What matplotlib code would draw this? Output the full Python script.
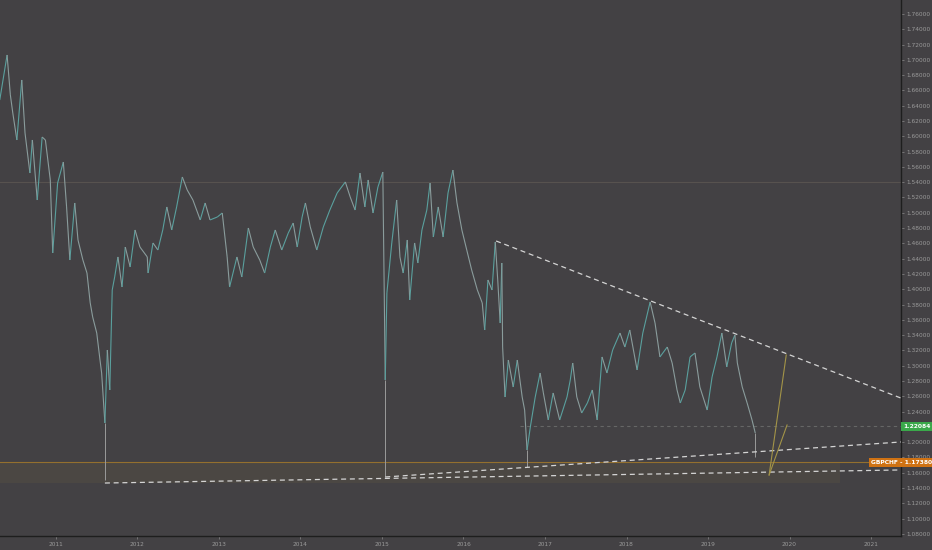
import matplotlib
matplotlib.use('Agg')
import matplotlib.pyplot as plt
import numpy as np
from matplotlib.collections import LineCollection
from matplotlib.patches import Rectangle

# ---- price path (decimal year, price) ----
t = [2010.31, 2010.40, 2010.44, 2010.47, 2010.52, 2010.58, 2010.62, 2010.68, 2010.71, 2010.77,
     2010.83, 2010.87, 2010.93, 2010.96, 2011.02, 2011.09, 2011.13, 2011.17, 2011.23, 2011.27,
     2011.33, 2011.38, 2011.42, 2011.45, 2011.50, 2011.54, 2011.56, 2011.60, 2011.63, 2011.66,
     2011.69, 2011.72, 2011.76, 2011.81, 2011.85, 2011.91, 2011.97, 2012.03, 2012.12, 2012.13,
     2012.19, 2012.25, 2012.31, 2012.36, 2012.42, 2012.48, 2012.55, 2012.61, 2012.68, 2012.77,
     2012.83, 2012.89, 2012.98, 2013.04, 2013.10, 2013.13, 2013.22, 2013.28, 2013.36, 2013.42,
     2013.50, 2013.56, 2013.63, 2013.69, 2013.77, 2013.85, 2013.91, 2013.96, 2014.02, 2014.06,
     2014.12, 2014.20, 2014.28, 2014.36, 2014.45, 2014.55, 2014.61, 2014.67, 2014.73, 2014.79,
     2014.83, 2014.89, 2014.95, 2015.01, 2015.04, 2015.06, 2015.12, 2015.18, 2015.22, 2015.26,
     2015.31, 2015.34, 2015.40, 2015.44, 2015.49, 2015.55, 2015.59, 2015.63, 2015.69, 2015.75,
     2015.81, 2015.87, 2015.92, 2015.98, 2016.04, 2016.10, 2016.17, 2016.23, 2016.26, 2016.30,
     2016.35, 2016.39, 2016.42, 2016.45, 2016.47, 2016.48, 2016.51, 2016.55, 2016.61, 2016.66,
     2016.72, 2016.75, 2016.78, 2016.82, 2016.88, 2016.94, 2016.98, 2017.04, 2017.10, 2017.18,
     2017.27, 2017.31, 2017.34, 2017.39, 2017.45, 2017.52, 2017.58, 2017.64, 2017.70, 2017.76,
     2017.83, 2017.92, 2017.98, 2018.04, 2018.13, 2018.20, 2018.29, 2018.35, 2018.41, 2018.50,
     2018.56, 2018.62, 2018.66, 2018.72, 2018.78, 2018.84, 2018.90, 2018.99, 2019.05, 2019.11,
     2019.17, 2019.23, 2019.29, 2019.33, 2019.36, 2019.42, 2019.48, 2019.54, 2019.58]
p = [1.6475, 1.7064, 1.6541, 1.6305, 1.5952, 1.6737, 1.6043, 1.5520, 1.5952, 1.5167,
     1.5991, 1.5952, 1.5429, 1.4474, 1.5389, 1.5664, 1.5076, 1.4382, 1.5128, 1.4644,
     1.4382, 1.4212, 1.3820, 1.3637, 1.3427, 1.3074, 1.2904, 1.2250, 1.3205, 1.2682,
     1.3990, 1.4160, 1.4422, 1.4029, 1.4552, 1.4291, 1.4775, 1.4552, 1.4422, 1.4212,
     1.4605, 1.4513, 1.4775, 1.5076, 1.4775, 1.5076, 1.5468, 1.5298, 1.5167, 1.4906,
     1.5128, 1.4906, 1.4945, 1.4997, 1.4422, 1.4029, 1.4422, 1.4160, 1.4801, 1.4552,
     1.4382, 1.4212, 1.4552, 1.4775, 1.4513, 1.4735, 1.4866, 1.4552, 1.4945, 1.5128,
     1.4814, 1.4513, 1.4814, 1.5036, 1.5259, 1.5403, 1.5206, 1.5036, 1.5520, 1.5076,
     1.5429, 1.4997, 1.5337, 1.5533, 1.2813, 1.3951, 1.4605, 1.5167, 1.4422, 1.4212,
     1.4644, 1.3859, 1.4605, 1.4343, 1.4775, 1.5036, 1.5389, 1.4683, 1.5076, 1.4683,
     1.5259, 1.5559, 1.5128, 1.4775, 1.4513, 1.4252, 1.3990, 1.3820, 1.3467, 1.4121,
     1.3990, 1.4618, 1.4121, 1.3558, 1.4343, 1.3244, 1.2590, 1.3074, 1.2721, 1.3074,
     1.2590, 1.2420, 1.1897, 1.2198, 1.2590, 1.2904, 1.2643, 1.2290, 1.2643, 1.2290,
     1.2590, 1.2813, 1.3035, 1.2590, 1.2381, 1.2512, 1.2682, 1.2290, 1.3114, 1.2904,
     1.3205, 1.3427, 1.3244, 1.3467, 1.2944, 1.3427, 1.3833, 1.3558, 1.3114, 1.3244,
     1.3035, 1.2682, 1.2512, 1.2682, 1.3114, 1.3166, 1.2721, 1.2420, 1.2852, 1.3114,
     1.3427, 1.2983, 1.3297, 1.3401, 1.3035, 1.2721, 1.2512, 1.2290, 1.2119]

# flash-crash wicks
wick_t = [2011.60, 2015.04, 2016.78, 2019.58]
wick_hi = [1.2250, 1.2813, 1.1897, 1.2119]
wick_lo = [1.1505, 1.1544, 1.1675, 1.1806]

# trend lines (start, end)
upper_tl = [(2016.40, 1.4631), (2021.37, 1.2575)]
middle_tl = [(2015.04, 1.1544), (2021.37, 1.2002)]
lower_tl = [(2011.60, 1.1465), (2021.37, 1.1636)]
proj_a = [(2019.75, 1.1570), (2019.96, 1.3140)]
proj_b = [(2019.75, 1.1570), (2019.97, 1.2224)]

hline_grey = 1.54
last_price = 1.22084
last_price_start = 2016.69
gbpchf = 1.17380
zone_lo, zone_hi, zone_end = 1.1465, 1.17380, 2020.62

yticks = [round(1.08 + 0.02 * i, 2) for i in range(35)]
hidden_ticks = [1.22]  # covered by the last-price label
years = list(range(2011, 2022))

BG = '#434144'
fig = plt.figure(figsize=(9.32, 5.5), dpi=100, facecolor=BG)
ax = fig.add_axes([0, 14 / 550, 901 / 932, 536 / 550])
ax.set_facecolor(BG)
x0, x1 = 2010.313, 2021.368
y0, y1 = 1.0772, 1.7783
ax.set_xlim(x0, x1)
ax.set_ylim(y0, y1)

# zone
ax.add_patch(Rectangle((x0, zone_lo), zone_end - x0, zone_hi - zone_lo,
                       facecolor='#7a6a40', alpha=0.15, edgecolor='none', zorder=1))
ax.axhline(gbpchf, color='#94702e', lw=0.8, zorder=2)
ax.axhline(hline_grey, color='#57524f', lw=0.8, zorder=1)
ax.plot([last_price_start, x1], [last_price, last_price], color='#666666',
        lw=0.8, ls=(0, (3, 3)), zorder=2)

# price path coloured by direction
pts = np.column_stack([t, p])
segs = np.stack([pts[:-1], pts[1:]], axis=1)
cols = ['#5aa09e' if p[i + 1] >= p[i] else '#8a9c9c' for i in range(len(p) - 1)]
ax.add_collection(LineCollection(segs, colors=cols, linewidths=0.8, zorder=3))

# wicks
ax.vlines(wick_t, wick_lo, wick_hi, colors='#9a9a9a', lw=0.7, zorder=3)

# trend lines
for ln in (upper_tl, middle_tl, lower_tl):
    ax.plot([ln[0][0], ln[1][0]], [ln[0][1], ln[1][1]], color='#d4d4d4',
            lw=0.9, ls=(0, (4, 3)), zorder=4)
for ln in (proj_a, proj_b):
    ax.plot([ln[0][0], ln[1][0]], [ln[0][1], ln[1][1]], color='#a39448',
            lw=0.8, zorder=4)

# axes styling
for s in ('top', 'left'):
    ax.spines[s].set_visible(False)
ax.spines['right'].set_color('#1e1e1e')
ax.spines['bottom'].set_color('#1e1e1e')
ax.spines['right'].set_linewidth(1.0)
ax.spines['bottom'].set_linewidth(1.0)
ax.yaxis.tick_right()
ax.set_yticks(yticks)
ax.set_yticklabels(['' if v in hidden_ticks else f'{v:.5f}' for v in yticks])
ax.set_xticks(years)
ax.set_xticklabels([str(y) for y in years])
ax.tick_params(axis='y', colors='#9a9a9a', labelsize=4.2, length=2.5, width=0.5, pad=1.5)
ax.tick_params(axis='x', colors='#9a9a9a', labelsize=4.2, length=2, width=0.5, pad=2)
ax.tick_params(axis='y', color='#8a8a8a')
ax.tick_params(axis='x', color='#8a8a8a')

# price labels
ax.annotate(f'{last_price:.5f}', xy=(1.0, last_price), xycoords=('axes fraction', 'data'),
            xytext=(1.5, 0), textcoords='offset points', ha='left', va='center',
            fontsize=4.3, color='white', fontweight='bold',
            bbox=dict(boxstyle='square,pad=0.35', fc='#3aa84a', ec='none'),
            annotation_clip=False, zorder=6)
ax.annotate(f'GBPCHF - {gbpchf:.5f}', xy=(1.0, gbpchf), xycoords=('axes fraction', 'data'),
            xytext=(22.5, 0), textcoords='offset points', ha='right', va='center',
            fontsize=4.3, color='white', fontweight='bold',
            bbox=dict(boxstyle='square,pad=0.35', fc='#cf7213', ec='none'),
            annotation_clip=False, zorder=6)

fig.savefig('out.png', dpi=100, facecolor=BG)
